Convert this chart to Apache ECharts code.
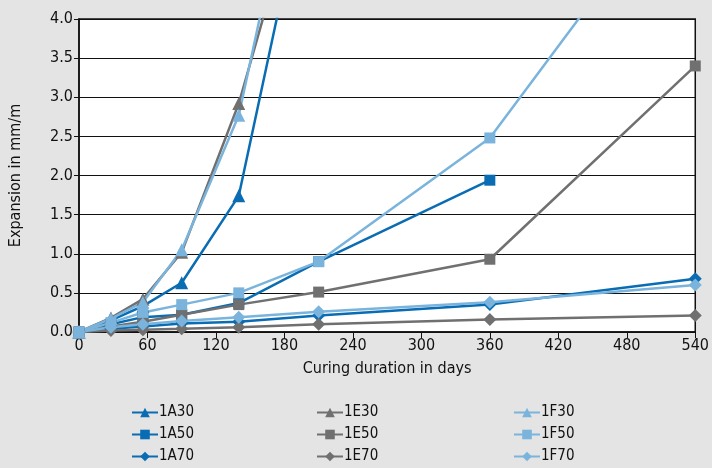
<!DOCTYPE html>
<html><head><meta charset="utf-8">
<script src="https://cdn.jsdelivr.net/npm/echarts@6/dist/echarts.min.js"></script>
<style>html,body{margin:0;padding:0;background:#e3e4e3;}#c{width:712px;height:468px;}</style>
</head><body><div id="c"></div>
<script>
var days = [0, 28, 56, 90, 140, 210, 360, 540];
var yTicks = ['0.0','0.5','1.0','1.5','2.0','2.5','3.0','3.5','4.0'];
var s1A30 = [0, 0.15, 0.33, 0.63, 1.74, 6.5];
var s1A50 = [0, 0.10, 0.19, 0.22, 0.37, 0.90, 1.94];
var s1A70 = [0, 0.04, 0.07, 0.11, 0.13, 0.21, 0.35, 0.68];
var s1E30 = [0, 0.18, 0.42, 1.02, 2.92, 6.5];
var s1E50 = [0, 0.07, 0.13, 0.22, 0.35, 0.51, 0.93, 3.40];
var s1E70 = [0, 0.02, 0.03, 0.04, 0.06, 0.10, 0.16, 0.21];
var s1F30 = [0, 0.17, 0.38, 1.05, 2.77, 7.5];
var s1F50 = [0, 0.12, 0.25, 0.35, 0.50, 0.90, 2.48, 6.0];
var s1F70 = [0, 0.06, 0.10, 0.14, 0.19, 0.26, 0.38, 0.60];

var DARK = '#0a6db3', GRAY = '#707070', LIGHT = '#7ab4dc';
var FONT = "'Liberation Sans Narrow','DejaVu Sans Condensed',Arial,sans-serif";
function pairs(v){ return v.map(function(y,i){ return [days[i], y]; }); }
function ser(name, vals, color, sym, size){
  return { name:name, type:'line', data:pairs(vals), symbol:sym, symbolSize:size,
    clip:true, z: 2,
    lineStyle:{color:color, width:2.5}, itemStyle:{color:color}, emphasis:{disabled:true} };
}
var series = [
  ser('1A30', s1A30, DARK, 'triangle', 13),
  ser('1A50', s1A50, DARK, 'rect', 11),
  ser('1A70', s1A70, DARK, 'diamond', 13),
  ser('1E30', s1E30, GRAY, 'triangle', 13),
  ser('1E50', s1E50, GRAY, 'rect', 11),
  ser('1E70', s1E70, GRAY, 'diamond', 13),
  ser('1F30', s1F30, LIGHT, 'triangle', 13),
  ser('1F50', s1F50, LIGHT, 'rect', 11),
  ser('1F70', s1F70, LIGHT, 'diamond', 13)
];
function leg(names, left){
  return { data:names, orient:'vertical', left:left, top:405, itemWidth:26, itemHeight:12, itemGap:7,
    selectedMode:false, padding:0,
    textStyle:{fontFamily:FONT, fontSize:15, color:'#111', padding:[0,0,0,-4]} };
}
var chart = echarts.init(document.getElementById('c'));
chart.setOption({
  backgroundColor:'#e3e4e3',
  animation:false,
  grid:{left:78, right:14, top:19, bottom:136, show:true, backgroundColor:'#ffffff', borderColor:'#111', borderWidth:1.5},
  legend:[ leg(['1A30','1A50','1A70'],131), leg(['1E30','1E50','1E70'],316), leg(['1F30','1F50','1F70'],513) ],
  xAxis:{ type:'value', min:0, max:540, interval:60,
    name:'Curing duration in days', nameLocation:'middle', nameGap:29,
    nameTextStyle:{fontFamily:FONT, fontSize:16, color:'#111'},
    axisLine:{lineStyle:{color:'#111', width:1.5}},
    axisTick:{show:true, length:6, lineStyle:{color:'#111'}},
    axisLabel:{fontFamily:FONT, fontSize:16, color:'#111', margin:6},
    splitLine:{show:false} },
  yAxis:{ type:'value', min:0, max:4, interval:0.5,
    name:'Expansion in mm/m', nameLocation:'middle', nameGap:55,
    nameTextStyle:{fontFamily:FONT, fontSize:16, color:'#111'},
    axisLine:{show:true, lineStyle:{color:'#111', width:1.5}},
    axisTick:{show:true, length:5, lineStyle:{color:'#111'}},
    axisLabel:{fontFamily:FONT, fontSize:16, color:'#111', margin:6,
      formatter:function(v){ return yTicks[Math.round(v*2)]; }},
    splitLine:{show:true, lineStyle:{color:'#111', width:1.2}} },
  series:series
});
</script></body></html>
